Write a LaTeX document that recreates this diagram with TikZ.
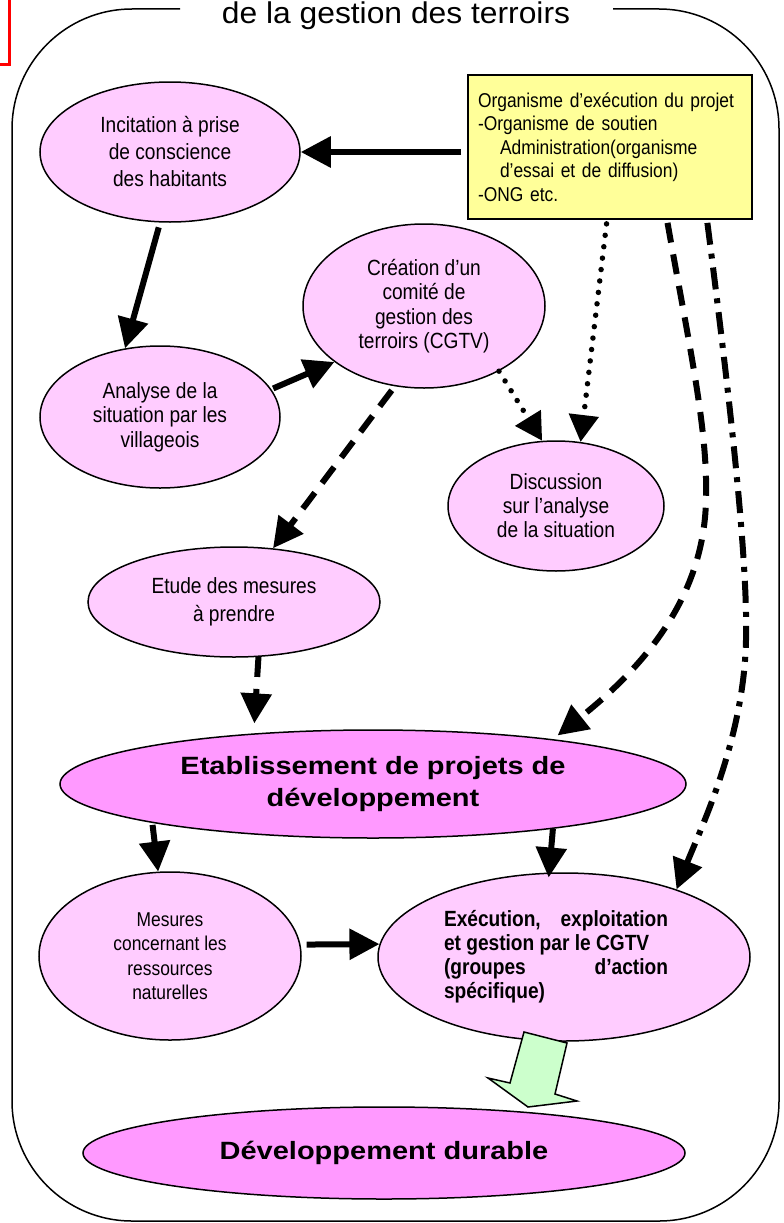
\documentclass[tikz,border=0pt]{standalone}
\usepackage{fontspec}
\setmainfont{Liberation Sans}
\newfontfamily\fN[FakeStretch=0.87]{Liberation Sans}
\newfontfamily\fW[FakeStretch=1.16]{Liberation Sans}
\newfontfamily\fT[FakeStretch=1.06]{Liberation Sans}
\usetikzlibrary{arrows.meta,shapes.geometric}
\definecolor{pinkL}{HTML}{FFCCFF}
\definecolor{pinkD}{HTML}{FF99FF}
\definecolor{yel}{HTML}{FFFF99}
\definecolor{grn}{HTML}{CCFFCC}
\begin{document}
\begin{tikzpicture}[x=1pt,y=-1pt,
  ell/.style={ellipse, draw=black, line width=1.5pt, fill=pinkL, inner sep=0pt, align=center},
  arr/.style={line width=6pt, -{Triangle[length=30pt,width=30pt]}},
  dsh/.style={arr, dash pattern=on 20pt off 12pt},
  dotarr/.style={line width=5.5pt, line cap=round, dash pattern=on 0pt off 11.5pt, -{Triangle[length=27pt,width=29pt]}},
  dashdot/.style={arr, dash pattern=on 22pt off 9pt on 5pt off 9pt}
]
\useasboundingbox (0,0) rectangle (784,1223);
% frame
\draw[line width=1.5pt, rounded corners=120pt] (180,9) -- (12,9) -- (12,1221) -- (779,1221) -- (779,9) -- (613,9);
\draw[red, line width=3pt] (9,-3) -- (9,65) -- (-3,65);
\node[font=\fT\fontsize{30}{36}\selectfont, anchor=base, inner sep=0pt] (title) at (396,24) {de la gestion des terroirs};

% nodes
\node[draw, line width=1.8pt, fill=yel, minimum width=284pt, minimum height=144pt, inner sep=4pt,
      text width=264pt, align=left, font=\fN\fontsize{20}{23.6}\selectfont] (Y) at (610,147)
  {\mbox{Organisme d’exécution du projet}\\\mbox{-Organisme de soutien}\\\mbox{\hspace*{22pt}Administration(organisme}\\\mbox{\hspace*{22pt}d’essai et de diffusion)}\\\mbox{-ONG etc.}};

\node[ell, minimum width=260pt, minimum height=140pt, font=\fN\fontsize{22}{27}\selectfont] (E1) at (170,152)
  {Incitation à prise\\de conscience\\des habitants};
\node[ell, minimum width=240pt, minimum height=142pt, font=\fN\fontsize{22}{24.5}\selectfont] (E2) at (160,417)
  {Analyse de la\\situation par les\\villageois};
\node[ell, minimum width=242pt, minimum height=164pt, font=\fN\fontsize{22}{24.5}\selectfont] (E3) at (424,306)
  {Création d’un\\comité de\\gestion des\\terroirs (CGTV)};
\node[ell, minimum width=216pt, minimum height=130pt, font=\fN\fontsize{22}{24}\selectfont] (E4) at (556,506)
  {Discussion\\sur l’analyse\\de la situation};
\node[ell, minimum width=292pt, minimum height=110pt, font=\fN\fontsize{22}{28}\selectfont] (E5) at (234,602)
  {Etude des mesures\\à prendre};
\node[ell, fill=pinkD, minimum width=626pt, minimum height=108pt, font=\fW\bfseries\fontsize{25}{32.6}\selectfont] (E6) at (373,784)
  {Etablissement de projets de\\développement};
\node[ell, minimum width=262pt, minimum height=168pt, font=\fN\fontsize{20}{24.5}\selectfont] (E7) at (170,956)
  {Mesures\\concernant les\\ressources\\naturelles};
\node[ell, minimum width=372pt, minimum height=168pt, font=\fN\bfseries\fontsize{22}{24}\selectfont] (E8) at (564,957)
  {\parbox{224pt}{\raggedright Exécution,\hfill exploitation\\et gestion par le CGTV\\(groupes\hfill d’action\\spécifique)}\hspace*{16pt}};
\node[ell, fill=pinkD, minimum width=602pt, minimum height=92pt, font=\fW\bfseries\fontsize{25}{30}\selectfont] (E9) at (384,1153)
  {Développement durable};

% connectors
\draw[arr, shorten <=6pt] ([yshift=-5pt]Y.west) -- (E1.east);
\draw[arr, shorten <=5pt] (E1.-98) -- (E2.117);
\draw[arr, shorten <=2pt] (E2.14) -- (E3.212);
\draw[dsh, shorten <=5pt] (E3.-110) -- (E5.54);
\draw[dotarr] (E3.-41) -- (E4.102);
\draw[dotarr, shorten <=4pt] ([xshift=-3pt]Y.south) -- (E4.69);
\draw[dsh, shorten <=3pt, shorten >=6pt] ([xshift=57pt]Y.south) .. controls (690,350) and (708,430) .. (706,500)
   .. controls (704,600) and (640,670) .. (E6.14);
\draw[dashdot, shorten <=3pt] ([xshift=97pt]Y.south) .. controls (730,400) and (748,560) .. (746,640)
   .. controls (744,740) and (700,830) .. (E8.31);
\draw[dsh, shorten >=10pt] (E5.-66) -- (E6.157);
\draw[arr, shorten <=2pt] (E6.190) -- (E7.98);
\draw[arr, shorten >=-5pt] (E6.-14) -- (E8.100);
\draw[arr, shorten <=6pt] (E7.5) -- (E8.176);

% green block arrow
\draw[line width=1.5pt, fill=grn, line join=miter] (524,1032) -- (567,1043) -- (555,1094) -- (577,1101)
   -- (528,1107) -- (488,1078) -- (510,1083) -- cycle;
\end{tikzpicture}
\end{document}
